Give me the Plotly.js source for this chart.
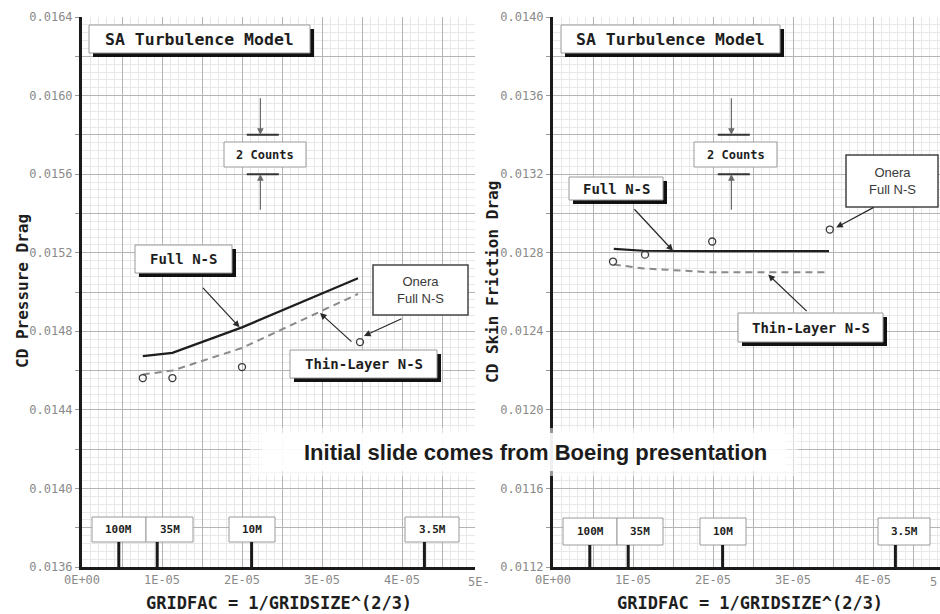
<!DOCTYPE html>
<html>
<head>
<meta charset="utf-8">
<script src="https://cdn.plot.ly/plotly-3.0.1.min.js"></script>
<style>
  html, body { margin: 0; padding: 0; background: #ffffff; }
  #chart { width: 940px; height: 614px; }
</style>
</head>
<body>
<div id="chart"></div>
<script>
// Grid convergence of drag, SA turbulence model
const gridFac      = [7.6e-6, 1.13e-5, 2.0e-5, 3.45e-5];
const pressFull    = [0.014674, 0.01469, 0.01482, 0.01507];
const pressThin    = [0.01458, 0.0146, 0.014715, 0.01499];
const pressOneraX  = [7.6e-6, 1.13e-5, 2.0e-5, 3.475e-5];
const pressOnera   = [0.014562, 0.014562, 0.014618, 0.014745];

const skinFull     = [0.01282, 0.01281, 0.012808, 0.012808];
const skinThin     = [0.01274, 0.01272, 0.01270, 0.01270];
const skinOneraX   = [7.5e-6, 1.15e-5, 1.99e-5, 3.46e-5];
const skinOnera    = [0.012755, 0.01279, 0.012857, 0.012918];

// grid size markers along the x axis
const meshLabels   = ['100M', '35M', '10M', '3.5M'];
const meshGridFac  = [4.6e-6, 9.4e-6, 2.12e-5, 4.28e-5];

// axis tick labels (every other grid line is labelled)
const xTickText    = ['0E+00', '', '1E-05', '', '2E-05', '', '3E-05', '', '4E-05', ''];
const pressTickText = ['0.0136', '', '0.0140', '', '0.0144', '', '0.0148', '', '0.0152', '', '0.0156', '', '0.0160', '', '0.0164'];
const skinTickText  = ['0.0112', '', '0.0116', '', '0.0120', '', '0.0124', '', '0.0128', '', '0.0132', '', '0.0136', '', '0.0140'];

const W = 940, H = 614;
const PX = v => v / W;
const PY = v => 1 - v / H;

const MONO = '"DejaVu Sans Mono", monospace';
const SANS = '"Liberation Sans", Arial, sans-serif';

const xTickVals = xTickText.map((_, i) => i * 0.5e-5);
const pressTickVals = pressTickText.map((_, i) => +(0.0136 + i * 0.0002).toFixed(5));
const skinTickVals  = skinTickText.map((_, i) => +(0.0112 + i * 0.0002).toFixed(5));

function xAxis(domain, range) {
  return {
    domain: domain, range: range,
    tickmode: 'array', tickvals: xTickVals, ticktext: xTickText,
    showgrid: true, gridcolor: '#b4b4b4', gridwidth: 1,
    minor: { tickmode: 'linear', tick0: 0, dtick: 1e-6, showgrid: true, gridcolor: '#e8e8e8', gridwidth: 1, ticks: '' },
    zeroline: false, showline: true, linecolor: '#1a1a1a', linewidth: 3,
    ticks: '', tickfont: { family: MONO, size: 12, color: '#8a8a8a' },
    fixedrange: true
  };
}
function yAxis(domain, range, vals, text, anchor) {
  return {
    domain: domain, range: range, anchor: anchor,
    tickmode: 'array', tickvals: vals, ticktext: text,
    showgrid: true, gridcolor: '#b4b4b4', gridwidth: 1,
    minor: { tickmode: 'linear', tick0: range[0], dtick: 0.00004, showgrid: true, gridcolor: '#e8e8e8', gridwidth: 1, ticks: '' },
    zeroline: false, showline: true, linecolor: '#1a1a1a', linewidth: 3,
    ticks: 'outside', ticklen: 4, tickcolor: '#9a9a9a',
    tickfont: { family: MONO, size: 12, color: '#8a8a8a' },
    fixedrange: true
  };
}

const yDom = [PY(567), PY(17)];

const traces = [
  { x: gridFac, y: pressFull, xaxis: 'x', yaxis: 'y', mode: 'lines',
    line: { color: '#1e1e1e', width: 2.2 } },
  { x: gridFac, y: pressThin, xaxis: 'x', yaxis: 'y', mode: 'lines',
    line: { color: '#8a8a8a', width: 2, dash: '7px,5px' } },
  { x: pressOneraX, y: pressOnera, xaxis: 'x', yaxis: 'y', mode: 'markers',
    marker: { symbol: 'circle-open', size: 7, color: '#3a3a3a', line: { width: 1.3, color: '#3a3a3a' } } },
  { x: gridFac, y: skinFull, xaxis: 'x2', yaxis: 'y2', mode: 'lines',
    line: { color: '#1e1e1e', width: 2.2 } },
  { x: gridFac, y: skinThin, xaxis: 'x2', yaxis: 'y2', mode: 'lines',
    line: { color: '#8a8a8a', width: 2, dash: '7px,5px' } },
  { x: skinOneraX, y: skinOnera, xaxis: 'x2', yaxis: 'y2', mode: 'markers',
    marker: { symbol: 'circle-open', size: 7, color: '#3a3a3a', line: { width: 1.3, color: '#3a3a3a' } } }
];

const shapes = [];
const annotations = [];

// labelled box, optionally with a heavy drop shadow
function box(x0, y0, x1, y1, lines, font, shadow, border) {
  if (shadow) {
    shapes.push({ type: 'rect', xref: 'paper', yref: 'paper', layer: 'above',
      x0: PX(x0 + 4), x1: PX(x1 + 4), y0: PY(y0 + 4), y1: PY(y1 + 4),
      fillcolor: '#111111', line: { width: 0 } });
  }
  shapes.push({ type: 'rect', xref: 'paper', yref: 'paper', layer: 'above',
    x0: PX(x0), x1: PX(x1), y0: PY(y0), y1: PY(y1),
    fillcolor: '#ffffff', line: { color: border || '#9a9a9a', width: border ? 1.5 : 1 } });
  annotations.push({ xref: 'paper', yref: 'paper', x: PX((x0 + x1) / 2), y: PY((y0 + y1) / 2),
    xanchor: 'center', yanchor: 'middle', showarrow: false, text: lines, font: font });
}

function arrow(xr, yr, x, y, ax, ay, color, width) {
  annotations.push({ xref: xr, yref: yr, x: x, y: y, ax: ax, ay: ay, text: '',
    showarrow: true, arrowhead: 2, arrowsize: 1.1, arrowwidth: width || 1.2,
    arrowcolor: color || '#2a2a2a', standoff: 0 });
}

const boldMono = s => ({ family: MONO, size: s, color: '#1e1e1e', weight: 'bold' });
const oneraFont = { family: SANS, size: 13, color: '#3a3a3a' };

// ---- left panel: pressure drag ----
box(89, 25, 310, 53, 'SA Turbulence Model', boldMono(16.5), true);
box(224, 142, 306, 167, '2 Counts', boldMono(12), false);
box(135, 245, 232, 273, 'Full N-S', boldMono(14), true);
box(373, 265, 468, 315, 'Onera<br>Full N-S', oneraFont, false, '#444444');
box(290, 350, 437, 378, 'Thin-Layer N-S', boldMono(14), true);

// ---- right panel: skin friction drag ----
box(561, 25, 780, 53, 'SA Turbulence Model', boldMono(16.5), true);
box(694, 142, 777, 167, '2 Counts', boldMono(12), false);
box(569, 177, 663, 200, 'Full N-S', boldMono(14), true);
box(846, 155, 938, 207, 'Onera<br>Full N-S', oneraFont, false, '#444444');
box(738, 313, 883, 342, 'Thin-Layer N-S', boldMono(14), true);

// mesh size markers
const meshBoxesL = [[92, 146], [146, 193], [229, 275], [405, 459]];
const meshBoxesR = [[563, 617], [617, 663], [700, 746], [878, 930]];
meshLabels.forEach((lab, i) => {
  box(meshBoxesL[i][0], 517, meshBoxesL[i][1], 542, lab, boldMono(11), false);
  box(meshBoxesR[i][0], 518, meshBoxesR[i][1], 545, lab, boldMono(11), false);
  shapes.push({ type: 'line', xref: 'x', yref: 'paper', layer: 'above',
    x0: meshGridFac[i], x1: meshGridFac[i], y0: PY(567), y1: PY(542),
    line: { color: '#1a1a1a', width: 3 } });
  shapes.push({ type: 'line', xref: 'x2', yref: 'paper', layer: 'above',
    x0: meshGridFac[i], x1: meshGridFac[i], y0: PY(568), y1: PY(545),
    line: { color: '#1a1a1a', width: 3 } });
});

// 2-count bracket lines
[['x', 'y', 0.0158, 0.0156], ['x2', 'y2', 0.0134, 0.0132]].forEach(([xr, yr, hi, lo]) => {
  [hi, lo].forEach(v => shapes.push({ type: 'line', xref: xr, yref: yr, layer: 'above',
    x0: 2.06e-5, x1: 2.46e-5, y0: v, y1: v, line: { color: '#333333', width: 2 } }));
  arrow(xr, yr, 2.23e-5, hi, 0, -38, '#6a6a6a', 1.2);
  arrow(xr, yr, 2.23e-5, lo, 0, 37, '#6a6a6a', 1.2);
});

// callout arrows, left panel
arrow('x', 'y', 1.97e-5, 0.01482, -38, -41);
arrow('x', 'y', 3.525e-5, 0.014776, 39, -18);
arrow('x', 'y', 2.975e-5, 0.014893, 33, 30);
// callout arrows, right panel
arrow('x2', 'y2', 1.5e-5, 0.01281, -40, -43);
arrow('x2', 'y2', 3.54e-5, 0.012928, 39, -21);
arrow('x2', 'y2', 2.69e-5, 0.012689, 40, 38);

// axis titles
const titleFont = { family: MONO, size: 16, color: '#1e1e1e', weight: 'bold' };
annotations.push({ xref: 'paper', yref: 'paper', x: PX(22), y: PY(291), textangle: -90,
  showarrow: false, text: 'CD Pressure Drag', font: titleFont, xanchor: 'center', yanchor: 'middle' });
annotations.push({ xref: 'paper', yref: 'paper', x: PX(492), y: PY(282), textangle: -90,
  showarrow: false, text: 'CD Skin Friction Drag', font: titleFont, xanchor: 'center', yanchor: 'middle' });
const xTitleFont = { family: MONO, size: 17, color: '#1e1e1e', weight: 'bold' };
annotations.push({ xref: 'paper', yref: 'paper', x: PX(279), y: PY(603), showarrow: false,
  text: 'GRIDFAC = 1/GRIDSIZE^(2/3)', font: xTitleFont, xanchor: 'center', yanchor: 'middle' });
annotations.push({ xref: 'paper', yref: 'paper', x: PX(750), y: PY(603), showarrow: false,
  text: 'GRIDFAC = 1/GRIDSIZE^(2/3)', font: xTitleFont, xanchor: 'center', yanchor: 'middle' });

// partially hidden last tick labels
annotations.push({ xref: 'paper', yref: 'paper', x: PX(466), y: PY(582), showarrow: false,
  text: '5E-', font: { family: MONO, size: 12, color: '#8a8a8a' }, xanchor: 'left', yanchor: 'middle' });
annotations.push({ xref: 'paper', yref: 'paper', x: PX(928), y: PY(582), showarrow: false,
  text: '5', font: { family: MONO, size: 12, color: '#8a8a8a' }, xanchor: 'left', yanchor: 'middle' });

// caption band across both panels
shapes.push({ type: 'rect', xref: 'paper', yref: 'paper', layer: 'above',
  x0: PX(250), x1: PX(798), y0: PY(476), y1: PY(428),
  fillcolor: 'rgba(255,255,255,0.55)', line: { width: 0 } });
shapes.push({ type: 'rect', xref: 'paper', yref: 'paper', layer: 'above',
  x0: PX(262), x1: PX(786), y0: PY(471), y1: PY(433),
  fillcolor: 'rgba(255,255,255,0.85)', line: { width: 0 } });
annotations.push({ xref: 'paper', yref: 'paper', x: PX(535), y: PY(452), showarrow: false,
  text: 'Initial slide comes from Boeing presentation',
  font: { family: SANS, size: 22, color: '#1c1c1c', weight: 'bold' },
  xanchor: 'center', yanchor: 'middle' });

const layout = {
  width: W, height: H,
  margin: { l: 0, r: 0, t: 0, b: 0 },
  paper_bgcolor: '#ffffff', plot_bgcolor: '#ffffff',
  showlegend: false, hovermode: false,
  xaxis: Object.assign(xAxis([PX(82), PX(475)], [0, 4.9125e-5]), { anchor: 'y' }),
  yaxis: yAxis(yDom, [0.0136, 0.0164], pressTickVals, pressTickText, 'x'),
  xaxis2: Object.assign(xAxis([PX(553), 1], [0, 4.8375e-5]), { anchor: 'y2' }),
  yaxis2: yAxis(yDom, [0.0112, 0.0140], skinTickVals, skinTickText, 'x2'),
  shapes: shapes,
  annotations: annotations
};

Plotly.newPlot('chart', traces, layout, { staticPlot: true, displayModeBar: false });
</script>
</body>
</html>
